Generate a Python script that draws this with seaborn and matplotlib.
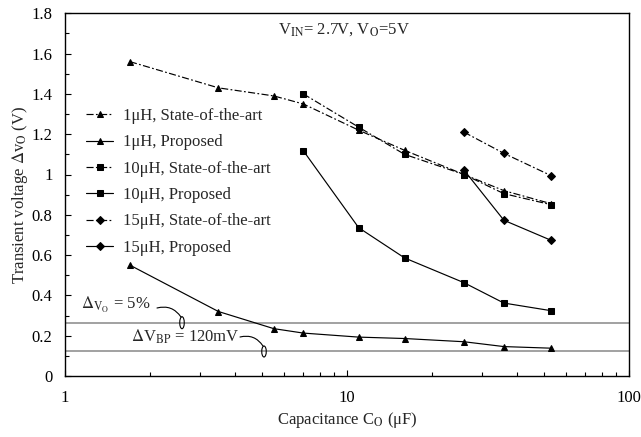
import matplotlib
matplotlib.use("Agg")
import matplotlib.pyplot as plt
import seaborn as sns
import pandas as pd
from matplotlib.patches import Ellipse
from matplotlib.ticker import MultipleLocator, LogLocator

# ---- data ----
cap_1uH = [1.7, 3.5, 5.5, 7.0, 11, 16, 26, 36, 53]
sota_1uH = [1.56, 1.43, 1.39, 1.35, 1.22, 1.12, 1.00, 0.92, 0.855]
prop_1uH = [0.55, 0.32, 0.235, 0.213, 0.193, 0.186, 0.170, 0.146, 0.138]

cap_10uH = [7.0, 11, 16, 26, 36, 53]
sota_10uH = [1.40, 1.235, 1.10, 1.00, 0.905, 0.85]
prop_10uH = [1.118, 0.736, 0.586, 0.463, 0.362, 0.324]

cap_15uH = [26, 36, 53]
sota_15uH = [1.21, 1.105, 0.994]
prop_15uH = [1.022, 0.773, 0.673]

limit_5pct = 0.261
limit_bp = 0.126

labels = ["1\u03bcH, State-of-the-art", "1\u03bcH, Proposed",
          "10\u03bcH, State-of-the-art", "10\u03bcH, Proposed",
          "15\u03bcH, State-of-the-art", "15\u03bcH, Proposed"]

sns.set_theme(style="white")
plt.rcParams['font.family'] = ['Liberation Serif', 'DejaVu Serif']
plt.rcParams['mathtext.fontset'] = 'stix'

fig = plt.figure(figsize=(6.41, 4.37), dpi=100)
ax = fig.add_axes([65/641, 1-376/437, 564/641, 362.7/437])

dashdot = (0, (6, 2, 1.5, 2))
series = [
    (cap_1uH, sota_1uH, labels[0], '^', dashdot, 5),
    (cap_1uH, prop_1uH, labels[1], '^', '-', 5),
    (cap_10uH, sota_10uH, labels[2], 's', dashdot, 4),
    (cap_10uH, prop_10uH, labels[3], 's', '-', 4),
    (cap_15uH, sota_15uH, labels[4], 'D', dashdot, 4.5),
    (cap_15uH, prop_15uH, labels[5], 'D', '-', 4.5),
]
for xs, ys, lab, mk, ls, ms in series:
    df = pd.DataFrame({"C": xs, "V": ys})
    sns.lineplot(data=df, x="C", y="V", ax=ax, color='black', lw=0.85,
                 marker=mk, markersize=ms, markeredgecolor='black',
                 linestyle=ls, label=lab)

ax.axhline(limit_5pct, color='#9a9a9a', lw=1.3, zorder=0)
ax.axhline(limit_bp, color='#9a9a9a', lw=1.3, zorder=0)

ax.set_xscale('log')
ax.set_xlim(1, 100)
ax.set_ylim(0, 1.8)
ax.set_yticks([0, 0.2, 0.4, 0.6, 0.8, 1.0, 1.2, 1.4, 1.6, 1.8])
ax.set_yticklabels(['0', '0.2', '0.4', '0.6', '0.8', '1', '1.2', '1.4', '1.6', '1.8'])
ax.set_xticks([1, 10, 100])
ax.set_xticklabels(['1', '10', '100'])
ax.yaxis.set_minor_locator(MultipleLocator(0.1))
ax.xaxis.set_minor_locator(LogLocator(base=10, subs=range(2, 10)))
ax.tick_params(axis='both', which='both', direction='in', labelsize=12,
               colors='black', left=True, bottom=True)
ax.tick_params(axis='y', which='major', length=4, width=0.8, pad=9)
ax.tick_params(axis='x', which='major', length=4, width=0.8, pad=10)
ax.tick_params(axis='both', which='minor', length=3, width=0.8)
for s in ax.spines.values():
    s.set_color('black')
    s.set_linewidth(1.0)

ax.set_xlabel("Capacitance C$_\\mathrm{O}$ (\u03bcF)", fontsize=12, labelpad=3)
ax.set_ylabel("Transient voltage $\\Delta$v$_\\mathrm{O}$ (V)", fontsize=12, labelpad=1)

ax.text(0.495, 0.955, r"V$_\mathrm{IN}$= 2.7V, V$_\mathrm{O}$=5V", transform=ax.transAxes,
        ha='center', va='center', fontsize=12)

def ax_pt(px, py):
    return ((px-65)/564, (376-py)/362.7)

# annotations
ax.text(*ax_pt(81, 305), r"$\Delta_{\mathrm{V_O}}$ = 5%", transform=ax.transAxes,
        ha='left', va='center', fontsize=12)
ax.text(*ax_pt(131, 337), r"$\Delta$V$_\mathrm{BP}$ = 120mV", transform=ax.transAxes,
        ha='left', va='center', fontsize=12)

e1 = Ellipse(ax_pt(182, 322.7), 4.5/564, 12/362.7, transform=ax.transAxes,
             fill=False, edgecolor='black', lw=0.8)
e2 = Ellipse(ax_pt(264, 351.5), 4.5/564, 11/362.7, transform=ax.transAxes,
             fill=False, edgecolor='black', lw=0.8)
ax.add_patch(e1)
ax.add_patch(e2)
ax.annotate("", xy=ax_pt(181, 317), xytext=ax_pt(157, 308), xycoords='axes fraction',
            textcoords='axes fraction',
            arrowprops=dict(arrowstyle='-', color='black', lw=0.8,
                            connectionstyle='arc3,rad=-0.35', shrinkA=0, shrinkB=0))
ax.annotate("", xy=ax_pt(263, 346), xytext=ax_pt(240, 337), xycoords='axes fraction',
            textcoords='axes fraction',
            arrowprops=dict(arrowstyle='-', color='black', lw=0.8,
                            connectionstyle='arc3,rad=-0.35', shrinkA=0, shrinkB=0))

leg = ax.legend(loc='upper left', bbox_to_anchor=(0.026, 0.757), frameon=False,
                fontsize=12, handlelength=1.6, labelspacing=0.62, handletextpad=0.6,
                borderaxespad=0)

fig.savefig("out.png", dpi=100)
